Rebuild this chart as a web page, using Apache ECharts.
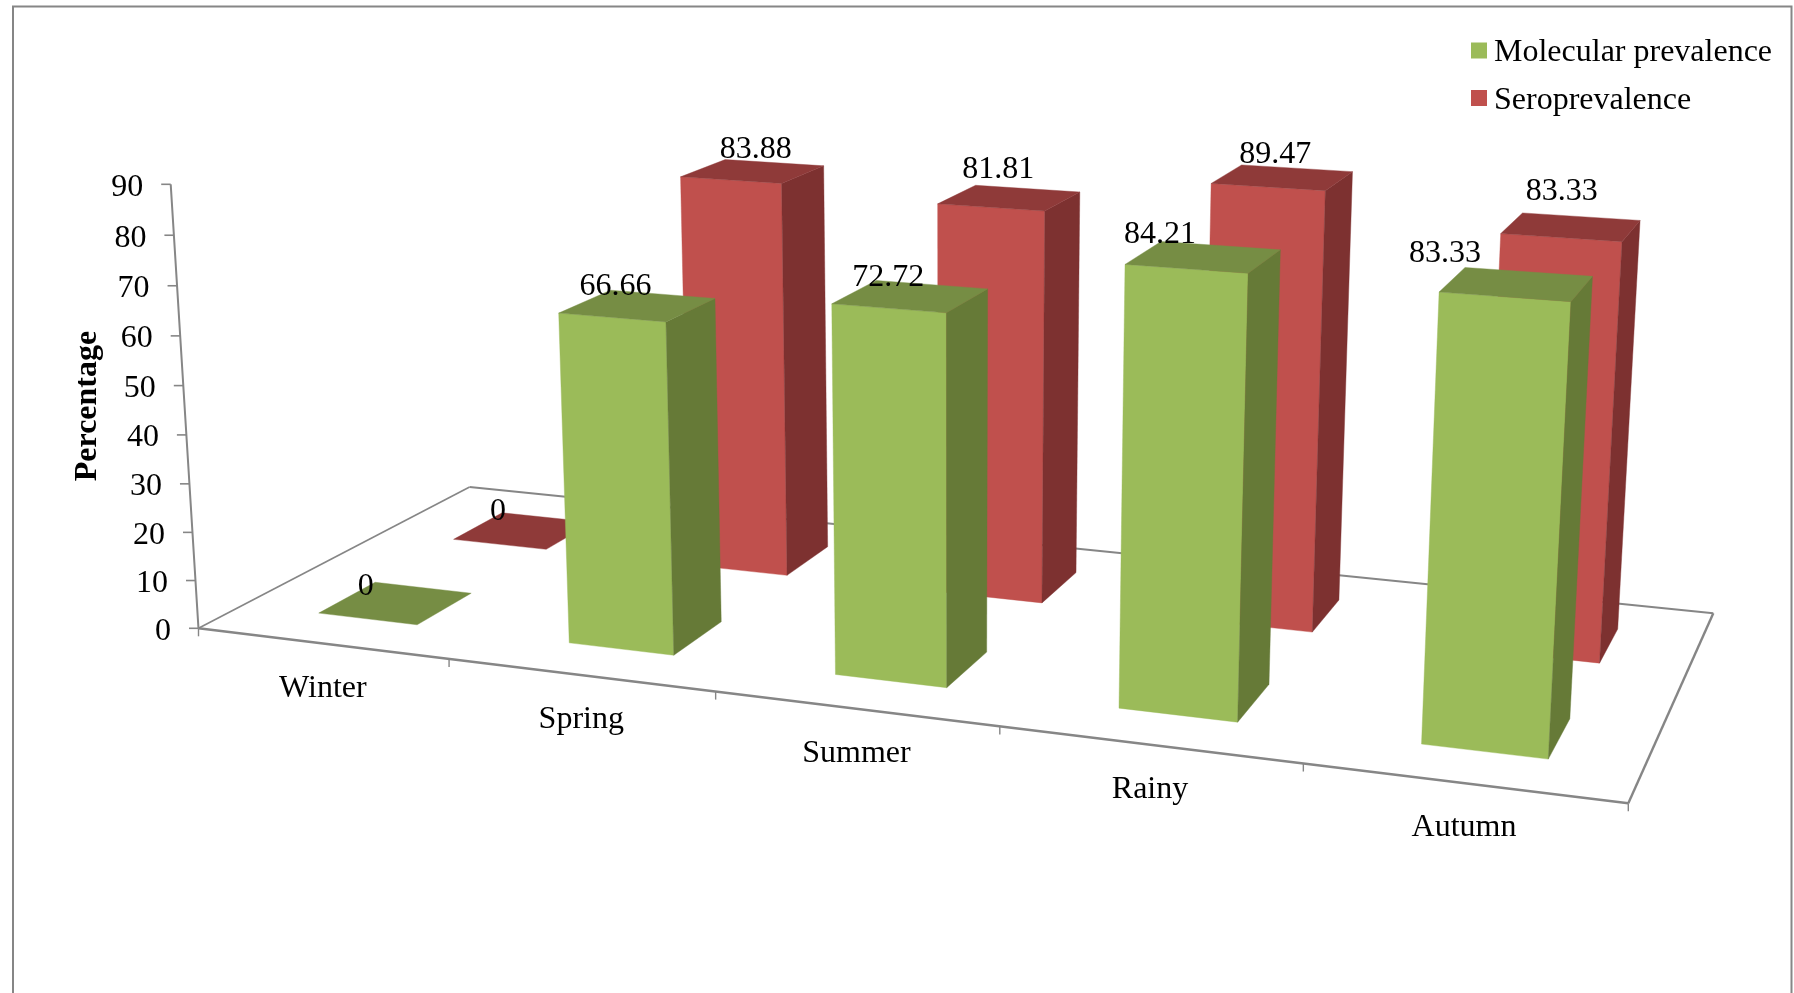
<!DOCTYPE html>
<html>
<head>
<meta charset="utf-8">
<style>html,body{margin:0;padding:0;background:#fff}#chart{width:1794px;height:993px}</style>
<script src="https://cdn.jsdelivr.net/npm/echarts@6/dist/echarts.min.js"></script>
</head>
<body>
<div id="chart"></div>
<script>
// Prevalence by season, read as percentages
const categories = ['Winter', 'Spring', 'Summer', 'Rainy', 'Autumn'];
const molecularValues = [0, 66.66, 72.72, 84.21, 83.33];
const seroValues = [0, 83.88, 81.81, 89.47, 83.33];
const yTicks = [0, 10, 20, 30, 40, 50, 60, 70, 80, 90];

// Label displacement from the centre of each bar's top face, in pixels
const molecularLabelShift = [[-28, -19], [-20, -21.5], [-20, -22], [-41, -25.5], [-69, -33.5]];
const seroLabelShift = [[-24, -22], [5, -25], [-9, -31], [-5, -25.5], [-7, -38.5]];

const FONT = '"Liberation Serif", "Times New Roman", serif';
const AXIS_COLOR = '#868686';
const BAR_WIDTH = 0.4;            // share of a category band
const BAR_SHIFT = 0.0016;         // bars sit a touch right of the band centre
const DEPTH_SLOTS = { molecular: 0.25, sero: 0.75 };
const BAR_DEPTH = 0.2;            // share of the floor depth
const TEXT_DROP = 3;              // digits sit above the em box centre
const HEIGHT_FALLOFF = 0.009;     // columns foreshorten slightly towards the right

// Perspective camera: the floor quad, the top of the value axis and the
// vanishing point of the vertical edges fix the whole projection.
const floorFL = [198.5, 628.3], floorFR = [1628.3, 803.3];
const floorBR = [1713.3, 613.3], floorBL = [469.6, 487];
const axisTopY = 184.3;
const verticalVP = [955.7, 12724];

const cam = (function () {
  const [x0, y0] = floorFL, [x1, y1] = floorFR, [x2, y2] = floorBR, [x3, y3] = floorBL;
  const dx1 = x1 - x2, dx2 = x3 - x2, sx = x0 - x1 + x2 - x3;
  const dy1 = y1 - y2, dy2 = y3 - y2, sy = y0 - y1 + y2 - y3;
  const det = dx1 * dy2 - dx2 * dy1;
  const g = (sx * dy2 - dx2 * sy) / det;
  const h = (dx1 * sy - sx * dy1) / det;
  return {
    a: x1 - x0 + g * x1, b: x3 - x0 + h * x3, c: x0,
    d: y1 - y0 + g * y1, e: y3 - y0 + h * y3, f: y0,
    g, h, l: (axisTopY - y0) / (verticalVP[1] - axisTopY)
  };
})();

// u: along the front edge, v: into the floor, t: share of the value axis height
function project(u, v, t) {
  const k = t * (1 - HEIGHT_FALLOFF * u) * cam.l;
  const w = cam.g * u + cam.h * v + 1 + k;
  return [
    (cam.a * u + cam.b * v + cam.c + k * verticalVP[0]) / w,
    (cam.d * u + cam.e * v + cam.f + k * verticalVP[1]) / w
  ];
}

// The hidden cartesian grid fills the canvas, so its pixels read directly as
// axis fractions once the category and value scales have placed a datum.
function toScene(params, api, catIndex, value) {
  const cs = params.coordSys;
  const p = api.coord([catIndex, value]);
  return {
    u: (p[0] - cs.x) / cs.width,
    t: (cs.y + cs.height - p[1]) / cs.height,
    band: api.size([1, 0])[0] / cs.width
  };
}

function poly(points, fill) {
  return { type: 'polygon', shape: { points }, style: { fill, stroke: fill, lineWidth: 0.4 } };
}
function seg(a, b, lineWidth) {
  return {
    type: 'line',
    shape: { x1: a[0], y1: a[1], x2: b[0], y2: b[1] },
    style: { stroke: AXIS_COLOR, lineWidth, fill: null }
  };
}
function label(text, x, y, font, align) {
  return {
    type: 'text',
    z2: 100,
    style: {
      text, x, y: y + TEXT_DROP, fill: '#000', font: font || ('32px ' + FONT),
      align: align || 'center', verticalAlign: 'middle'
    }
  };
}

function barRenderer(depthCentre, shades, shifts) {
  return function (params, api) {
    const i = api.value(0), value = api.value(1);
    const s = toScene(params, api, i, value);
    const half = s.band * BAR_WIDTH / 2;
    const u0 = s.u - half + BAR_SHIFT, u1 = s.u + half + BAR_SHIFT;
    const v0 = depthCentre - BAR_DEPTH / 2, v1 = depthCentre + BAR_DEPTH / 2;
    const t = s.t;
    const children = [];
    if (value > 0) {
      children.push(poly([project(u0, v0, 0), project(u1, v0, 0), project(u1, v0, t), project(u0, v0, t)], shades.front));
      children.push(poly([project(u1, v0, 0), project(u1, v1, 0), project(u1, v1, t), project(u1, v0, t)], shades.side));
    }
    children.push(poly([project(u0, v0, t), project(u1, v0, t), project(u1, v1, t), project(u0, v1, t)], shades.top));
    const c = project(s.u, depthCentre, t);
    const shift = shifts[i];
    children.push(label(String(value), c[0] + shift[0], c[1] + shift[1]));
    return { type: 'group', children };
  };
}

function floorRenderer(params, api) {
  const i = api.value(0);
  const s = toScene(params, api, i, 0);
  const children = [];
  const tick = function (u) {
    const p = project(u, 0, 0);
    return seg(p, [p[0], p[1] + 8], 1.4);
  };
  if (i === 0) {
    children.push(seg(floorBL, floorFL, 1.6), seg(floorBL, floorBR, 2));
    children.push(seg(floorFR, floorBR, 2.4), seg(floorFL, floorFR, 2.6));
    children.push(tick(0));
  }
  children.push(tick(s.u + s.band / 2));
  const c = project(s.u, 0, 0);
  children.push(label(categories[i], c[0] + 1, c[1] + 42));
  return { type: 'group', children };
}

function valueAxisRenderer(params, api) {
  const tickValue = api.value(1);
  const s = toScene(params, api, 0, tickValue);
  const p = project(0, 0, s.t);
  const children = [
    seg([p[0] - 9.5, p[1]], p, 1.6),
    label(String(tickValue), p[0] - 27.5, p[1], null, 'right')
  ];
  if (tickValue === yTicks[yTicks.length - 1]) {
    children.push(seg(p, project(0, 0, 0), 2));
    children.push({
      type: 'text', z2: 100, x: 88, y: 406, rotation: Math.PI / 2,
      style: {
        text: 'Percentage', x: 0, y: 0, fill: '#000', font: 'bold 32px ' + FONT,
        align: 'center', verticalAlign: 'middle'
      }
    });
  }
  return { type: 'group', children };
}

const chart = echarts.init(document.getElementById('chart'), null, { renderer: 'canvas' });
chart.setOption({
  animation: false,
  backgroundColor: '#fff',
  grid: { left: 0, top: 0, width: '100%', height: '100%', containLabel: false },
  xAxis: { type: 'category', data: categories, show: false },
  yAxis: { type: 'value', min: 0, max: 90, interval: 10, show: false },
  legend: {
    orient: 'vertical', left: 1471, top: 37, padding: 0,
    icon: 'rect', itemWidth: 16, itemHeight: 16, itemGap: 15.5,
    selectedMode: false,
    data: ['Molecular prevalence', 'Seroprevalence'],
    formatter: '{entry|{name}}',
    textStyle: {
      color: '#000',
      rich: { entry: { fontFamily: FONT, fontSize: 32, color: '#000', padding: [5, 0, 0, 2] } }
    }
  },
  graphic: [{
    type: 'rect', silent: true, z: 0,
    shape: { x: 13, y: 6.5, width: 1778.5, height: 1010 },
    style: { fill: null, stroke: AXIS_COLOR, lineWidth: 2 }
  }],
  series: [
    {
      type: 'custom', name: 'floor', z: 1, silent: true,
      data: categories.map((c, i) => [i, 0]),
      renderItem: floorRenderer
    },
    {
      type: 'custom', name: 'value axis', z: 1, silent: true,
      data: yTicks.map(v => [0, v]),
      renderItem: valueAxisRenderer
    },
    {
      type: 'custom', name: 'Seroprevalence', z: 2,
      itemStyle: { color: '#C0504D' },
      data: seroValues.map((v, i) => [i, v]),
      renderItem: barRenderer(DEPTH_SLOTS.sero,
        { front: '#C0504D', side: '#7D3130', top: '#8F3A39' }, seroLabelShift)
    },
    {
      type: 'custom', name: 'Molecular prevalence', z: 3,
      itemStyle: { color: '#9BBB59' },
      data: molecularValues.map((v, i) => [i, v]),
      renderItem: barRenderer(DEPTH_SLOTS.molecular,
        { front: '#9BBB59', side: '#667A37', top: '#768D44' }, molecularLabelShift)
    }
  ]
});
</script>
</body>
</html>
